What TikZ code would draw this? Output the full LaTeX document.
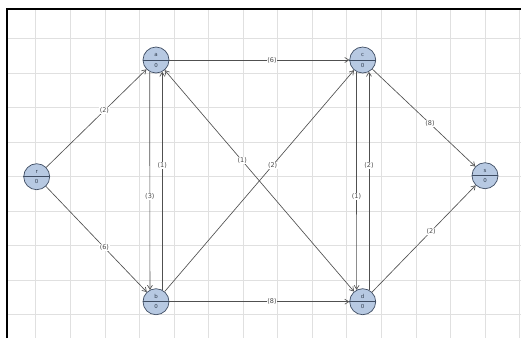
\documentclass[tikz,border=0pt]{standalone}
\usepackage{fontspec}
\setmainfont{DejaVu Sans}
\usetikzlibrary{arrows.meta}
\definecolor{nodefill}{HTML}{B7C9E2}
\definecolor{nodeline}{HTML}{3F4D63}
\definecolor{edgecol}{HTML}{505050}
\definecolor{gridcol}{HTML}{E0E0E0}
\definecolor{labcol}{HTML}{4A4A4A}
\tikzset{
  vert/.style={circle, minimum size=26pt, inner sep=0pt, fill=nodefill, draw=nodeline, line width=0.7pt},
  edge/.style={draw=edgecol, line width=0.65pt, -{Straight Barb[length=4pt,width=5pt]}},
  biedge/.style={draw=edgecol, line width=0.65pt, {Straight Barb[length=4pt,width=5pt]}-{Straight Barb[length=4pt,width=5pt]}},
  lab/.style={fill=white, inner sep=0.6pt, text=labcol, font=\fontsize{6.5}{7.5}\selectfont},
  vtxt/.style={font=\fontsize{5.5}{6.5}\selectfont, text=nodeline!80!black, inner sep=0pt}
}
\newcommand{\vertex}[3]{%
  \node[vert] (#1) at (#2) {};
  \draw[nodeline, line width=0.7pt] (#1.west) -- (#1.east);
  \node[vtxt] at ([yshift=5pt]#1.center) {#3};
  \node[vtxt] at ([yshift=-5pt]#1.center) {0};
}
\begin{document}
\begin{tikzpicture}[x=1pt,y=-1pt]
\useasboundingbox (0,0) rectangle (521,338);
\fill[white] (0,0) rectangle (521,338);
% grid
\foreach \k in {0,...,14} {\draw[gridcol, line width=0.5pt] ({35.7+34.56*\k},9) -- ({35.7+34.56*\k},338);}
\foreach \k in {0,...,8} {\draw[gridcol, line width=0.5pt] (7,{38.3+34.55*\k}) -- (521,{38.3+34.55*\k});}
% frame
\draw[black, line width=2pt] (7,338) -- (7,9) -- (521,9);
% vertices
\vertex{r}{36.7,176.7}{r}
\vertex{a}{156,60}{a}
\vertex{c}{362.7,60}{c}
\vertex{s}{485,175.7}{s}
\vertex{b}{156,301.7}{b}
\vertex{d}{362.7,301.7}{d}
% edges
\draw[edge] (r) -- node[lab, pos=0.58] {(2)} (a);
\draw[edge] (r) -- node[lab, pos=0.58] {(6)} (b);
\draw[edge] (a) -- node[lab, pos=0.57] {(6)} (c);
\draw[edge] (b) -- node[lab, pos=0.57] {(8)} (d);
\draw[edge] (a.242.5) -- node[lab, pos=0.57] {(3)} (b.117.5);
\draw[edge] (b.62.5) -- node[lab, pos=0.57] {(1)} (a.-62.5);
\draw[edge] (c.242.5) -- node[lab, pos=0.57] {(1)} (d.117.5);
\draw[edge] (d.62.5) -- node[lab, pos=0.57] {(2)} (c.-62.5);
\draw[biedge] (d) -- node[lab, pos=0.59] {(1)} (a);
\draw[edge] (b) -- node[lab, pos=0.57] {(2)} (c);
\draw[edge] (c) -- node[lab, pos=0.56] {(8)} (s);
\draw[edge] (d) -- node[lab, pos=0.57] {(2)} (s);
\end{tikzpicture}
\end{document}
